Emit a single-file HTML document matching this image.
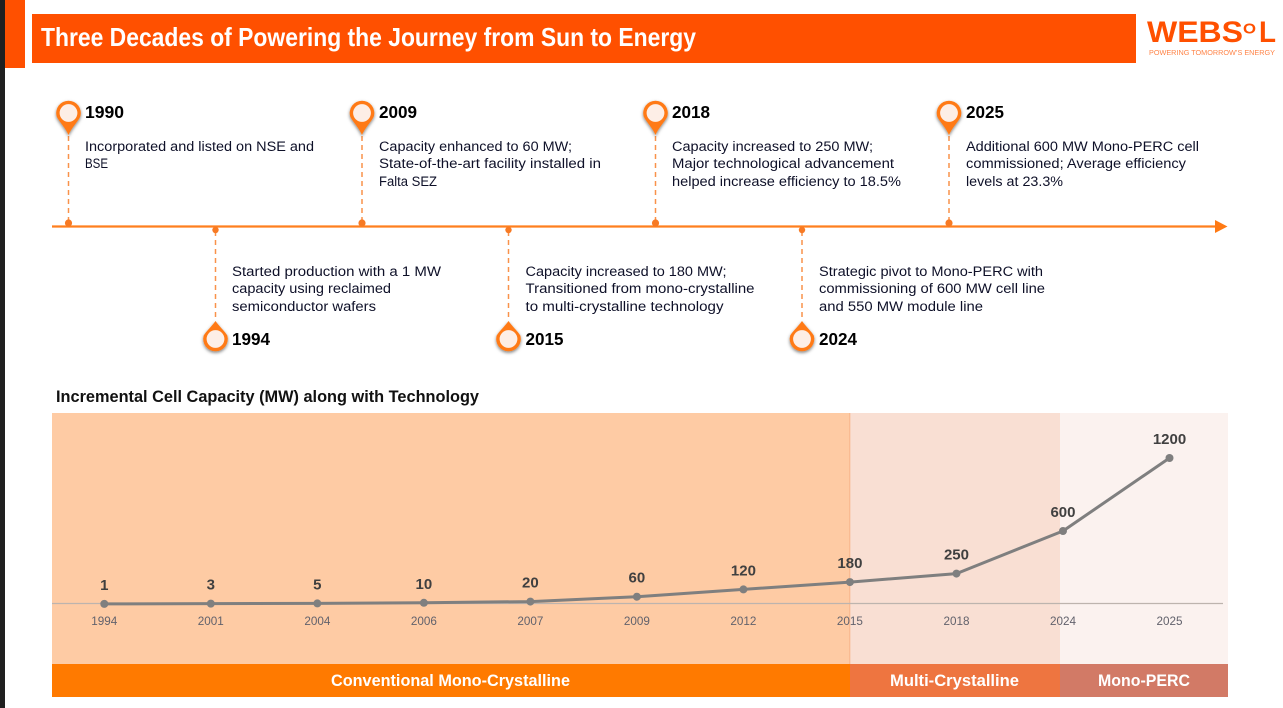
<!DOCTYPE html>
<html lang="en">
<head>
<meta charset="utf-8">
<title>Three Decades of Powering the Journey from Sun to Energy</title>
<style>
html,body{margin:0;padding:0;background:#fff;width:1283px;height:708px;overflow:hidden}
svg{display:block}
text{font-family:"Liberation Sans",sans-serif}
.body{font-size:14.2px;fill:#0e1028}
.yr{font-size:17.5px;font-weight:700;fill:#000}
</style>
</head>
<body>
<svg id="slide" width="1283" height="708" viewBox="0 0 1283 708" xmlns="http://www.w3.org/2000/svg">
<defs>
<filter id="sh" x="-50%" y="-50%" width="200%" height="200%"><feDropShadow dx="0" dy="1.5" stdDeviation="1.6" flood-color="#000" flood-opacity=".5"/></filter>
<g id="pin-down"><path d="M-11.8 3.500A12.300 12.300 0 1 1 11.800 3.500C10 8 3.500 14 0 22C-3.500 14 -10 8 -11.800 3.500Z" fill="#ff7a14" filter="url(#sh)"/><circle r="8.900" fill="#fdeee6"/></g>
<g id="pin-up"><path d="M-11.800 -3.500A12.300 12.300 0 1 0 11.800 -3.500C9 -8 3.500 -13 0 -18C-3.500 -13 -9 -8 -11.800 -3.500Z" fill="#ff7a14" filter="url(#sh)"/><circle r="8.900" fill="#fdeee6"/></g>
</defs>
<rect width="1283" height="708" fill="#fff"/>
<rect x="0" y="0" width="5" height="708" fill="#202020"/>
<rect x="5" y="0" width="20" height="68" fill="#ff5000"/>
<rect x="32" y="14" width="1104" height="49" fill="#ff5000"/>
<text x="41" y="46" font-size="26" font-weight="700" fill="#fff" textLength="655" lengthAdjust="spacingAndGlyphs">Three Decades of Powering the Journey from Sun to Energy</text>

<g fill="#ff5000">
<text x="1147" y="42" font-size="30" font-weight="700" textLength="96" lengthAdjust="spacingAndGlyphs">WEBS</text>
<text x="1243" y="33.500" font-size="15" font-weight="700" textLength="13" lengthAdjust="spacingAndGlyphs">O</text>
<text x="1259" y="42" font-size="30" font-weight="700" textLength="17" lengthAdjust="spacingAndGlyphs">L</text>
<text x="1149" y="55" font-size="7" fill="#ff8448" textLength="126" lengthAdjust="spacingAndGlyphs">POWERING TOMORROW’S ENERGY</text>
</g>

<g>
<line x1="52" y1="226.500" x2="1216" y2="226.500" stroke="#ff7f1e" stroke-width="2.200"/>
<polygon points="1215,220 1227.500,226.500 1215,233" fill="#ff7a14"/>
<g stroke="#f9924a" stroke-width="1.500" stroke-dasharray="5 4">
<line x1="68.500" y1="136" x2="68.500" y2="222"/>
<line x1="362" y1="136" x2="362" y2="222"/>
<line x1="655.500" y1="136" x2="655.500" y2="222"/>
<line x1="949" y1="136" x2="949" y2="222"/>
<line x1="215.500" y1="231" x2="215.500" y2="321"/>
<line x1="508.500" y1="231" x2="508.500" y2="321"/>
<line x1="802" y1="231" x2="802" y2="321"/>
</g>
<g fill="#f77a24">
<circle cx="68.500" cy="223" r="3.600"/>
<circle cx="362" cy="223" r="3.600"/>
<circle cx="655.500" cy="223" r="3.600"/>
<circle cx="949" cy="223" r="3.600"/>
<circle cx="215.500" cy="230" r="3.200"/>
<circle cx="508.500" cy="230" r="3.200"/>
<circle cx="802" cy="230" r="3.200"/>
</g>
<use href="#pin-down" x="68.500" y="113"/>
<use href="#pin-down" x="362" y="113"/>
<use href="#pin-down" x="655.500" y="113"/>
<use href="#pin-down" x="949" y="113"/>
<use href="#pin-up" x="215.500" y="339"/>
<use href="#pin-up" x="508.500" y="339"/>
<use href="#pin-up" x="802" y="339"/>

<g>
<text class="yr" x="85" y="118" textLength="39" lengthAdjust="spacingAndGlyphs">1990</text>
<text class="body" x="85" y="151" textLength="229" lengthAdjust="spacingAndGlyphs">Incorporated and listed on NSE and</text>
<text class="body" x="85" y="168" textLength="23" lengthAdjust="spacingAndGlyphs">BSE</text>
</g>
<g>
<text class="yr" x="379" y="118" textLength="38" lengthAdjust="spacingAndGlyphs">2009</text>
<text class="body" x="379" y="151" textLength="193" lengthAdjust="spacingAndGlyphs">Capacity enhanced to 60 MW;</text>
<text class="body" x="379" y="168" textLength="222" lengthAdjust="spacingAndGlyphs">State-of-the-art facility installed in</text>
<text class="body" x="379" y="186" textLength="58" lengthAdjust="spacingAndGlyphs">Falta SEZ</text>
</g>
<g>
<text class="yr" x="672" y="118" textLength="38" lengthAdjust="spacingAndGlyphs">2018</text>
<text class="body" x="672" y="151" textLength="201" lengthAdjust="spacingAndGlyphs">Capacity increased to 250 MW;</text>
<text class="body" x="672" y="168" textLength="222" lengthAdjust="spacingAndGlyphs">Major technological advancement</text>
<text class="body" x="672" y="186" textLength="229" lengthAdjust="spacingAndGlyphs">helped increase efficiency to 18.5%</text>
</g>
<g>
<text class="yr" x="966" y="118" textLength="38" lengthAdjust="spacingAndGlyphs">2025</text>
<text class="body" x="966" y="151" textLength="233" lengthAdjust="spacingAndGlyphs">Additional 600 MW Mono-PERC cell</text>
<text class="body" x="966" y="168" textLength="220" lengthAdjust="spacingAndGlyphs">commissioned; Average efficiency</text>
<text class="body" x="966" y="186" textLength="97" lengthAdjust="spacingAndGlyphs">levels at 23.3%</text>
</g>
<g>
<text class="body" x="232" y="276" textLength="209" lengthAdjust="spacingAndGlyphs">Started production with a 1 MW</text>
<text class="body" x="232" y="293" textLength="159" lengthAdjust="spacingAndGlyphs">capacity using reclaimed</text>
<text class="body" x="232" y="311" textLength="144" lengthAdjust="spacingAndGlyphs">semiconductor wafers</text>
<text class="yr" x="232" y="345" textLength="38" lengthAdjust="spacingAndGlyphs">1994</text>
</g>
<g>
<text class="body" x="525.500" y="276" textLength="201" lengthAdjust="spacingAndGlyphs">Capacity increased to 180 MW;</text>
<text class="body" x="525.500" y="293" textLength="229" lengthAdjust="spacingAndGlyphs">Transitioned from mono-crystalline</text>
<text class="body" x="525.500" y="311" textLength="198" lengthAdjust="spacingAndGlyphs">to multi-crystalline technology</text>
<text class="yr" x="525.500" y="345" textLength="38" lengthAdjust="spacingAndGlyphs">2015</text>
</g>
<g>
<text class="body" x="819" y="276" textLength="224" lengthAdjust="spacingAndGlyphs">Strategic pivot to Mono-PERC with</text>
<text class="body" x="819" y="293" textLength="226" lengthAdjust="spacingAndGlyphs">commissioning of 600 MW cell line</text>
<text class="body" x="819" y="311" textLength="164" lengthAdjust="spacingAndGlyphs">and 550 MW module line</text>
<text class="yr" x="819" y="345" textLength="38" lengthAdjust="spacingAndGlyphs">2024</text>
</g>
</g>

<text x="56" y="402" font-size="16.500" font-weight="700" fill="#111" textLength="423" lengthAdjust="spacingAndGlyphs">Incremental Cell Capacity (MW) along with Technology</text>

<g>
<rect x="52" y="413" width="798" height="251" fill="#fecba4"/>
<rect x="850" y="413" width="210" height="251" fill="#f9dfd3"/>
<rect x="1060" y="413" width="168" height="251" fill="#fbf2ef"/>
<line x1="849.800" y1="413" x2="849.800" y2="664" stroke="#f7b48a" stroke-width="1"/>
<rect x="52" y="664" width="798" height="33" fill="#ff7a00"/>
<rect x="850" y="664" width="210" height="33" fill="#ee7540"/>
<rect x="1060" y="664" width="168" height="33" fill="#d27a66"/>
<text x="331" y="686" font-size="16.500" font-weight="700" fill="#fff" textLength="239" lengthAdjust="spacingAndGlyphs">Conventional Mono-Crystalline</text>
<text x="890" y="686" font-size="16.500" font-weight="700" fill="#fff" textLength="129" lengthAdjust="spacingAndGlyphs">Multi-Crystalline</text>
<text x="1098" y="686" font-size="16.500" font-weight="700" fill="#fff" textLength="92" lengthAdjust="spacingAndGlyphs">Mono-PERC</text>
</g>

<g id="chart"></g>
</svg>
<script>
const categories = ["1994", "2001", "2004", "2006", "2007", "2009", "2012", "2015", "2018", "2024", "2025"];
const capacityValues = [1, 3, 5, 10, 20, 60, 120, 180, 250, 600, 1200];

const NS = "http://www.w3.org/2000/svg";
const chart = document.getElementById("chart");
function xScale(i) { return 104.3 + i * 106.52; }
function yScale(v) { return 604 - v * 146 / 1200; }
function make(tag, attrs) {
  const el = document.createElementNS(NS, tag);
  for (const k in attrs) el.setAttribute(k, attrs[k]);
  chart.appendChild(el);
  return el;
}

const baseline = make("line", { x1: 52, y1: yScale(0) - 0.5, x2: 1223, y2: yScale(0) - 0.5, stroke: "#bdb4ae", "stroke-width": 1.3 });



const line = make("polyline", {
  points: capacityValues.map((v, i) => xScale(i) + "," + yScale(v)).join(" "),
  fill: "none", stroke: "#7f7f7f", "stroke-width": 3, "stroke-linejoin": "round"
});



capacityValues.forEach((v, i) => {
  const point = make("circle", { cx: xScale(i), cy: yScale(v), r: 4, fill: "#7f7f7f" });
  
  

  const value = make("text", { x: xScale(i), y: yScale(v) - 14, "text-anchor": "middle", "font-size": 15, "font-weight": 700, fill: "#404040" });
  value.textContent = v;
  
  

  const tick = make("text", { x: xScale(i), y: 625, "text-anchor": "middle", "font-size": 11.7, fill: "#62626c" });
  tick.textContent = categories[i];
  
  
});
</script>
</body>
</html>
